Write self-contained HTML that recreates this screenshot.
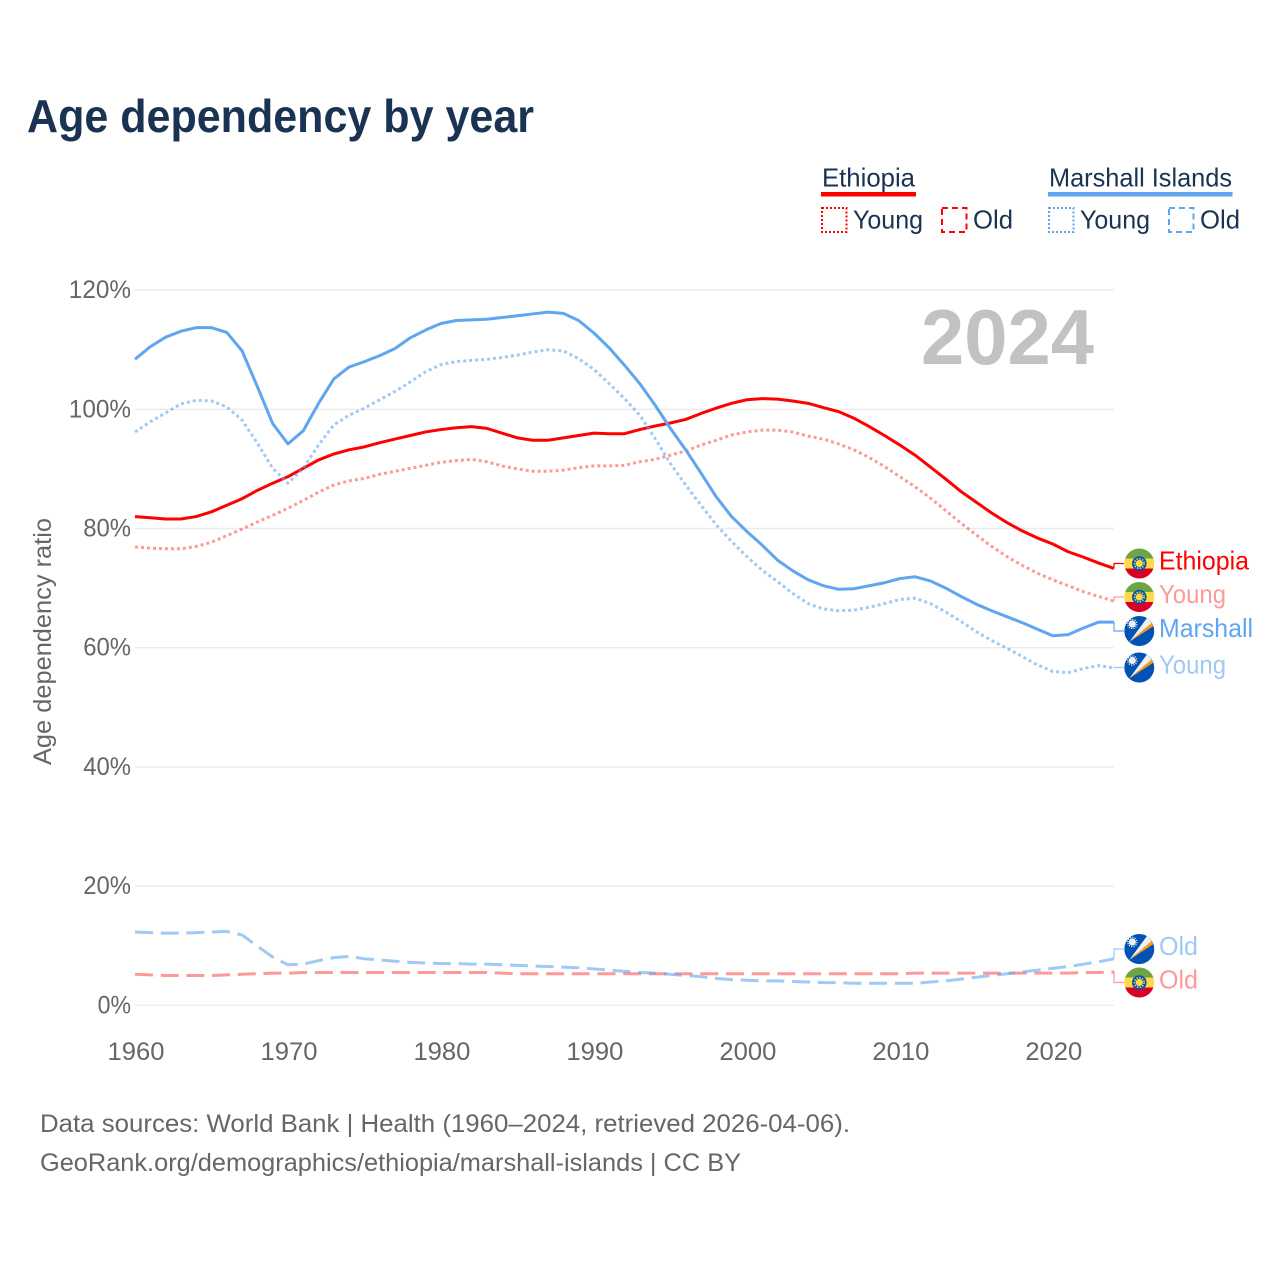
<!DOCTYPE html>
<html lang="en">
<head>
<meta charset="utf-8">
<title>Age dependency by year</title>
<style>
html,body{margin:0;padding:0;background:#fff}
svg{display:block}
text{font-family:"Liberation Sans",sans-serif}
</style>
</head>
<body>
<svg id="chart" xmlns="http://www.w3.org/2000/svg" width="1280" height="1280" viewBox="0 0 1280 1280">
  <defs>
    <clipPath id="flag-clip"><circle cx="0" cy="0" r="15"/></clipPath>
    <symbol id="flag-et" overflow="visible">
      <g clip-path="url(#flag-clip)">
        <rect x="-15" y="-15" width="30" height="10.3" fill="#6da544"/>
        <rect x="-15" y="-4.9" width="30" height="10" fill="#ffda44"/>
        <rect x="-15" y="5" width="30" height="10" fill="#d80027"/>
      </g>
      <circle r="7.3" fill="#0052b4"/>
      <circle r="3.6" fill="#ffda44"/>
      <circle r="4.8" fill="none" stroke="#ffda44" stroke-width="1.6" stroke-dasharray="1.4 1.4"/>
    </symbol>
    <symbol id="flag-mh" overflow="visible">
      <g clip-path="url(#flag-clip)">
        <rect x="-15" y="-15" width="30" height="30" fill="#0052b4"/>
        <polygon points="-10,11 8,-13.5 12.5,-8" fill="#f0f0f0"/>
        <polygon points="-10,11 12.5,-8 14.2,-5" fill="#ff9811"/>
      </g>
      <circle cx="-7" cy="-7" r="3.6" fill="#f0f0f0"/>
      <circle cx="-7" cy="-7" r="4.6" fill="none" stroke="#f0f0f0" stroke-width="1.2" stroke-dasharray="1.2 1.2"/>
    </symbol>
  </defs>

  <text x="27" y="132" font-size="46" font-weight="700" fill="#1a3352" textLength="507" lengthAdjust="spacingAndGlyphs">Age dependency by year</text>

  <g>
    <text x="822" y="186.5" font-size="26" fill="#1a3352" textLength="93" lengthAdjust="spacingAndGlyphs">Ethiopia</text>
    <rect x="821" y="192" width="95" height="4.5" fill="#ff0000"/>
    <rect x="822" y="208" width="24.5" height="24" fill="none" stroke="#ff0000" stroke-width="2" stroke-dasharray="2 2"/>
    <text x="853" y="228.5" font-size="26" fill="#1a3352" textLength="70" lengthAdjust="spacingAndGlyphs">Young</text>
    <rect x="942" y="208" width="24.5" height="24" fill="none" stroke="#ff0000" stroke-width="2" stroke-dasharray="6 4"/>
    <text x="973" y="228.5" font-size="26" fill="#1a3352" textLength="40" lengthAdjust="spacingAndGlyphs">Old</text>

    <text x="1049" y="186.5" font-size="26" fill="#1a3352" textLength="183" lengthAdjust="spacingAndGlyphs">Marshall Islands</text>
    <rect x="1048" y="192" width="184.5" height="4.5" fill="#60a5ef"/>
    <rect x="1049" y="208" width="24.5" height="24" fill="none" stroke="#60a5ef" stroke-width="2" stroke-dasharray="2 2"/>
    <text x="1080" y="228.5" font-size="26" fill="#1a3352" textLength="70" lengthAdjust="spacingAndGlyphs">Young</text>
    <rect x="1169" y="208" width="24.5" height="24" fill="none" stroke="#60a5ef" stroke-width="2" stroke-dasharray="6 4"/>
    <text x="1200" y="228.5" font-size="26" fill="#1a3352" textLength="40" lengthAdjust="spacingAndGlyphs">Old</text>
  </g>

  <g id="grid"></g>
  <g id="y-ticks"></g>
  <g id="x-ticks"></g>

  <text transform="translate(51,765) rotate(-90)" font-size="25" fill="#666666" textLength="247" lengthAdjust="spacingAndGlyphs">Age dependency ratio</text>
  <text x="921" y="364" font-size="78" font-weight="700" fill="#c2c2c2" textLength="173" lengthAdjust="spacingAndGlyphs">2024</text>

  <g id="series"></g>
  <g id="end-labels"></g>

  <text x="40" y="1132" font-size="25" fill="#666666" textLength="810" lengthAdjust="spacingAndGlyphs">Data sources: World Bank | Health (1960–2024, retrieved 2026-04-06).</text>
  <text x="40" y="1171" font-size="25" fill="#666666" textLength="701" lengthAdjust="spacingAndGlyphs">GeoRank.org/demographics/ethiopia/marshall-islands | CC BY</text>
</svg>

<script>
const firstYear = 1960;
const lastYear = 2024;
const yTickValues = [0, 20, 40, 60, 80, 100, 120];
const xTickValues = [1960, 1970, 1980, 1990, 2000, 2010, 2020];

const ethiopiaTotal = [82.0,81.8,81.6,81.6,82.0,82.8,83.9,85.0,86.4,87.6,88.7,90.1,91.5,92.5,93.2,93.7,94.4,95.0,95.6,96.2,96.6,96.9,97.1,96.8,96.0,95.2,94.8,94.8,95.2,95.6,96.0,95.9,95.9,96.6,97.2,97.7,98.3,99.3,100.2,101.0,101.6,101.8,101.7,101.4,101.0,100.3,99.6,98.5,97.1,95.6,94.0,92.3,90.3,88.3,86.2,84.4,82.6,81.0,79.6,78.4,77.4,76.1,75.2,74.2,73.3];
const ethiopiaYoung = [76.9,76.7,76.6,76.6,77.0,77.7,78.8,79.9,81.1,82.2,83.4,84.7,86.1,87.3,88.0,88.4,89.1,89.6,90.1,90.6,91.1,91.4,91.6,91.2,90.5,90.0,89.6,89.6,89.8,90.2,90.5,90.5,90.6,91.2,91.6,92.3,93.0,94.0,94.8,95.7,96.2,96.5,96.5,96.2,95.5,95.0,94.2,93.2,91.9,90.4,88.7,87.0,85.1,83.0,80.9,78.9,77.0,75.3,73.8,72.5,71.4,70.4,69.4,68.6,67.8];
const ethiopiaOld = [5.2,5.1,5.0,5.0,5.0,5.0,5.1,5.2,5.3,5.4,5.4,5.5,5.5,5.5,5.5,5.5,5.5,5.5,5.5,5.5,5.5,5.5,5.5,5.5,5.4,5.3,5.3,5.3,5.3,5.3,5.3,5.3,5.3,5.3,5.3,5.3,5.3,5.3,5.3,5.3,5.3,5.3,5.3,5.3,5.3,5.3,5.3,5.3,5.3,5.3,5.3,5.4,5.4,5.4,5.4,5.4,5.4,5.4,5.4,5.4,5.4,5.4,5.5,5.5,5.6];
const marshallTotal = [108.4,110.5,112.1,113.1,113.7,113.7,112.9,109.8,103.8,97.6,94.2,96.4,101.0,105.1,107.1,108.0,109.0,110.2,112.0,113.3,114.4,114.9,115.0,115.1,115.4,115.7,116.0,116.3,116.1,114.9,112.8,110.3,107.4,104.3,100.7,96.8,93.2,89.3,85.3,82.0,79.5,77.2,74.7,72.9,71.4,70.4,69.8,69.9,70.4,70.9,71.6,71.9,71.2,70.0,68.6,67.3,66.2,65.2,64.2,63.1,62.0,62.2,63.3,64.3,64.3];
const marshallYoung = [96.2,97.9,99.4,100.9,101.5,101.4,100.4,98.2,94.3,90.1,87.6,90.1,94.0,97.4,99.0,100.2,101.6,103.0,104.6,106.3,107.5,108.0,108.2,108.4,108.7,109.1,109.6,110.0,109.8,108.5,106.7,104.3,101.8,99.0,95.1,90.9,87.3,83.9,80.6,77.8,75.3,73.0,71.1,69.1,67.4,66.5,66.2,66.3,66.8,67.4,68.1,68.3,67.4,66.0,64.4,62.7,61.2,59.9,58.5,57.1,56.0,55.8,56.5,57.0,56.6];
const marshallOld = [12.3,12.2,12.1,12.1,12.2,12.3,12.4,11.8,9.9,8.1,6.8,6.9,7.5,8.0,8.2,7.8,7.6,7.4,7.2,7.1,7.0,7.0,6.9,6.9,6.8,6.7,6.6,6.5,6.4,6.3,6.1,5.9,5.7,5.5,5.4,5.2,5.0,4.8,4.5,4.3,4.2,4.1,4.1,4.0,3.9,3.8,3.8,3.7,3.7,3.7,3.7,3.7,3.9,4.1,4.4,4.7,5.0,5.3,5.6,5.9,6.2,6.5,6.9,7.3,7.8];

const NS = 'http://www.w3.org/2000/svg';
const plotLeft = 135, plotRight = 1114, plotZero = 1005.3, plotTop = 290.1, maxValue = 120;

function xScale(year) {
  return plotLeft + (year - firstYear) / (lastYear - firstYear) * (plotRight - plotLeft);
}
function yScale(value) {
  return plotZero - value / maxValue * (plotZero - plotTop);
}
function make(tag, attrs, parent, content) {
  const el = document.createElementNS(NS, tag);
  for (const key in attrs) el.setAttribute(key, attrs[key]);
  if (content !== undefined) el.textContent = content;
  parent.appendChild(el);
  return el;
}

const gridGroup = document.getElementById('grid');
const yTickGroup = document.getElementById('y-ticks');
yTickValues.forEach(function (value) {
  const y = yScale(value);
  const line = make('line', {x1: plotLeft, x2: plotRight, y1: y, y2: y, stroke: '#ebebeb', 'stroke-width': 1.4}, gridGroup);
  
  
  const label = value + '%';
  const width = String(value).length * 14.4 + 19;
  const text = make('text', {x: 131, y: y + 8, 'font-size': 25, fill: '#666666', 'text-anchor': 'end', textLength: width, lengthAdjust: 'spacingAndGlyphs'}, yTickGroup, label);
  
  
});

const xTickGroup = document.getElementById('x-ticks');
xTickValues.forEach(function (year) {
  const text = make('text', {x: xScale(year) + 1, y: 1060, 'font-size': 25, fill: '#666666', 'text-anchor': 'middle', textLength: 57, lengthAdjust: 'spacingAndGlyphs'}, xTickGroup, String(year));
  
  
});

const seriesGroup = document.getElementById('series');
function drawSeries(name, values, color, dash, opacity) {
  const d = values.map(function (v, i) {
    return (i ? 'L' : 'M') + xScale(firstYear + i).toFixed(2) + ' ' + yScale(v).toFixed(2);
  }).join(' ');
  const attrs = {d: d, fill: 'none', stroke: color, 'stroke-width': 3, 'stroke-linejoin': 'round', opacity: opacity};
  if (dash) attrs['stroke-dasharray'] = dash;
  const path = make('path', attrs, seriesGroup);
  
  
}

const RED = '#ff0000', BLUE = '#60a5ef';
const DOTS = '3 3', DASHES = '18 7.7';
drawSeries('line-ethiopia-old', ethiopiaOld, RED, DASHES, 0.4);
drawSeries('line-marshall-old', marshallOld, BLUE, DASHES, 0.6);
drawSeries('line-ethiopia-young', ethiopiaYoung, RED, DOTS, 0.4);
drawSeries('line-ethiopia-total', ethiopiaTotal, RED, null, 1);
drawSeries('line-marshall-young', marshallYoung, BLUE, DOTS, 0.6);
drawSeries('line-marshall-total', marshallTotal, BLUE, null, 1);

const labelGroup = document.getElementById('end-labels');
function endLabel(name, values, flag, text, textWidth, color, opacity, labelY) {
  const endY = yScale(values[values.length - 1]);
  const group = make('g', {opacity: 1}, labelGroup);
  
  
  const leader = make('path', {d: 'M' + plotRight + ' ' + endY.toFixed(2) + ' V' + labelY + ' H1124', fill: 'none', stroke: color, 'stroke-width': 1.2, opacity: opacity}, group);
  
  
  const icon = make('use', {href: '#' + flag, x: 1139.3, y: labelY}, group);
  
  
  const label = make('text', {x: 1159, y: labelY + 6, 'font-size': 26, fill: color, opacity: opacity, textLength: textWidth, lengthAdjust: 'spacingAndGlyphs'}, group, text);
  
  
}

endLabel('end-label-ethiopia', ethiopiaTotal, 'flag-et', 'Ethiopia', 90, RED, 1, 563.5);
endLabel('end-label-ethiopia-young', ethiopiaYoung, 'flag-et', 'Young', 67, RED, 0.4, 597);
endLabel('end-label-marshall', marshallTotal, 'flag-mh', 'Marshall', 94, BLUE, 1, 631);
endLabel('end-label-marshall-young', marshallYoung, 'flag-mh', 'Young', 67, BLUE, 0.6, 667.5);
endLabel('end-label-marshall-old', marshallOld, 'flag-mh', 'Old', 39, BLUE, 0.6, 949);
endLabel('end-label-ethiopia-old', ethiopiaOld, 'flag-et', 'Old', 39, RED, 0.4, 982.5);
</script>
</body>
</html>
